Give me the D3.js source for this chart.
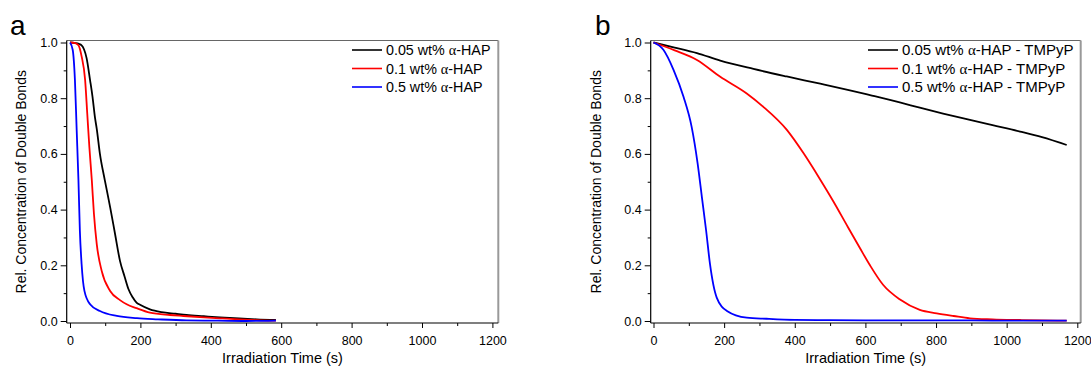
<!DOCTYPE html>
<html>
<head>
<meta charset="utf-8">
<script src="https://cdn.jsdelivr.net/npm/d3@7"></script>
<style>
  body { margin: 0; background: #fff; }
  svg { display: block; font-family: "Liberation Sans", Arial, sans-serif; }
</style>
</head>
<body>
<div id="chart"></div>
<script>

// panel a : alpha-HAP only (time in s, relative concentration)
var timeA_black = [0, 14, 25, 33, 40, 47, 57, 64, 71, 76, 85, 99, 114, 128, 142, 155, 166, 178, 189, 199, 227, 260, 300, 331, 380, 426, 480, 530, 585];
var valA_black  = [1.0, 0.998, 0.995, 0.99, 0.975, 0.945, 0.865, 0.805, 0.73, 0.69, 0.60, 0.505, 0.409, 0.3125, 0.216, 0.16, 0.115, 0.085, 0.066, 0.058, 0.042, 0.032, 0.026, 0.0215, 0.017, 0.013, 0.009, 0.006, 0.004];

var timeA_red = [0, 15, 24, 33, 43, 49, 55, 62, 68, 76, 90, 114, 142, 161, 189, 227, 284, 322, 380, 426, 480, 530, 585];
var valA_red  = [1.0, 0.998, 0.99, 0.95, 0.865, 0.745, 0.625, 0.505, 0.385, 0.276, 0.18, 0.108, 0.075, 0.06, 0.046, 0.03, 0.0215, 0.018, 0.013, 0.0097, 0.006, 0.003, 0.001];

var timeA_blue = [0, 7.6, 14, 19, 24, 28, 33, 41, 57, 85, 133, 190, 250, 331, 420, 500, 585];
var valA_blue  = [1.0, 0.974, 0.865, 0.685, 0.505, 0.325, 0.204, 0.108, 0.06, 0.036, 0.018, 0.01, 0.006, 0.002, 0.001, 0.0, 0.001];

// panel b : alpha-HAP - TMPyP
var timeB_black = [0, 60, 123, 189, 283, 377, 472, 550, 613, 700, 754, 820, 896, 960, 1038, 1100, 1170];
var valB_black  = [1.0, 0.982, 0.962, 0.935, 0.905, 0.878, 0.852, 0.83, 0.811, 0.784, 0.766, 0.745, 0.722, 0.703, 0.68, 0.66, 0.632];

var timeB_red = [0, 60, 123, 189, 264, 311, 377, 425, 471, 509, 547, 584, 613, 650, 698, 754, 802, 850, 896, 960, 1038, 1100, 1170];
var valB_red  = [1.0, 0.972, 0.9375, 0.877, 0.817, 0.769, 0.687, 0.602, 0.51, 0.43, 0.345, 0.263, 0.2, 0.13, 0.077, 0.04, 0.0276, 0.018, 0.0097, 0.006, 0.0036, 0.002, 0.001];

var timeB_blue = [0, 28, 57, 85, 108, 125, 137, 149, 160, 179, 208, 264, 320, 400, 500, 600, 700, 800, 900, 1000, 1100, 1170];
var valB_blue  = [1.0, 0.974, 0.901, 0.805, 0.697, 0.565, 0.445, 0.325, 0.204, 0.084, 0.036, 0.012, 0.008, 0.004, 0.003, 0.002, 0.002, 0.002, 0.002, 0.001, 0.001, 0.001];

var seriesColors = ["#000000", "#ff0000", "#0000ff"];
var legendA = ["0.05 wt% ", "0.1 wt% ", "0.5 wt% "];
var legendSuffixA = "-HAP";
var legendSuffixB = "-HAP - TMPyP";

var xTicksMajor = [0, 200, 400, 600, 800, 1000, 1200];
var xTicksMinor = [100, 300, 500, 700, 900, 1100];
var yTicksMajor = [0, 0.2, 0.4, 0.6, 0.8, 1.0];
var yTicksMinor = [0.1, 0.3, 0.5, 0.7, 0.9];

function zipSeries(t, v) {
    return t.map(function(d, i) { return { t: d, v: v[i] }; });
}

var svg = d3.select("#chart").append("svg")
    .attr("width", 1091)
    .attr("height", 370);

DecayChart = function(_panel) {
    this.panel = _panel;
    this.initVis();
};

DecayChart.prototype.initVis = function() {
    var vis = this;
    var p = vis.panel;

    vis.g = svg.append("g");

    vis.x = d3.scaleLinear().domain([0, 1200]).range([p.x0, p.x1200]);
    vis.y = d3.scaleLinear().domain([0, 1]).range([p.yZero, p.yOne]);

    // x axis (major with labels, minor without)
    vis.g.append("g")
        .attr("class", "x-major")
        .attr("transform", "translate(0," + p.bottom + ")")
        .call(d3.axisBottom(vis.x).tickValues(xTicksMajor).tickSize(5).tickPadding(8).tickFormat(d3.format("d")));
    vis.g.append("g")
        .attr("class", "x-minor")
        .attr("transform", "translate(0," + p.bottom + ")")
        .call(d3.axisBottom(vis.x).tickValues(xTicksMinor).tickSize(3).tickFormat(""));

    vis.g.append("g")
        .attr("class", "y-major")
        .attr("transform", "translate(" + p.left + ",0)")
        .call(d3.axisLeft(vis.y).tickValues(yTicksMajor).tickSize(6).tickPadding(3).tickFormat(d3.format(".1f")));
    vis.g.append("g")
        .attr("class", "y-minor")
        .attr("transform", "translate(" + p.left + ",0)")
        .call(d3.axisLeft(vis.y).tickValues(yTicksMinor).tickSize(3).tickFormat(""));

    vis.g.selectAll(".domain").remove();
    vis.g.selectAll(".tick line").attr("stroke", "#000").attr("stroke-width", 1);
    vis.g.selectAll(".tick text").attr("font-size", "12.5px").attr("fill", "#000");

    // frame: top and right grey, left and bottom black
    vis.g.append("line").attr("x1", p.left).attr("x2", p.right).attr("y1", p.top).attr("y2", p.top)
        .attr("stroke", "#666").attr("stroke-width", 1);
    vis.g.append("line").attr("x1", p.right).attr("x2", p.right).attr("y1", p.top).attr("y2", p.bottom)
        .attr("stroke", "#999").attr("stroke-width", 2);
    vis.g.append("line").attr("x1", p.left).attr("x2", p.right).attr("y1", p.bottom).attr("y2", p.bottom)
        .attr("stroke", "#000").attr("stroke-width", 1.2);
    vis.g.append("line").attr("x1", p.left).attr("x2", p.left).attr("y1", p.top).attr("y2", p.bottom)
        .attr("stroke", "#000").attr("stroke-width", 1.2);

    // titles
    vis.g.append("text")
        .attr("x", (p.left + p.right) / 2)
        .attr("y", 363)
        .attr("text-anchor", "middle")
        .attr("font-size", "14.5px")
        .text("Irradiation Time (s)");

    vis.g.append("text")
        .attr("transform", "translate(" + p.yTitleX + "," + ((p.top + p.bottom) / 2) + ") rotate(-90)")
        .attr("text-anchor", "middle")
        .attr("dy", "0.35em")
        .attr("font-size", "14px")
        .text("Rel. Concentration of Double Bonds");

    vis.g.append("text")
        .attr("x", p.letterX)
        .attr("y", 35)
        .attr("font-size", "28px")
        .text(p.letter);

    vis.updateVis();
};

DecayChart.prototype.updateVis = function() {
    var vis = this;
    var p = vis.panel;

    var line = d3.line()
        .x(function(d) { return vis.x(d.t); })
        .y(function(d) { return vis.y(d.v); })
        .curve(d3.curveMonotoneX);

    vis.g.selectAll(".curve")
        .data(p.series)
        .enter()
        .append("path")
        .attr("class", "curve")
        .attr("d", function(d) { return line(d); })
        .attr("fill", "none")
        .attr("stroke", function(d, i) { return seriesColors[i]; })
        .attr("stroke-width", 1.8);

    // legend
    var rowsY = [50, 68.5, 87];
    var leg = vis.g.selectAll(".legend")
        .data(legendA)
        .enter()
        .append("g")
        .attr("class", "legend")
        .attr("transform", function(d, i) { return "translate(0," + rowsY[i] + ")"; });

    leg.append("line")
        .attr("x1", p.legendX).attr("x2", p.legendX + 30)
        .attr("stroke", function(d, i) { return seriesColors[i]; })
        .attr("stroke-width", 1.6);

    var txt = leg.append("text")
        .attr("x", p.legendX + 34)
        .attr("dy", "0.35em")
        .attr("font-size", p.legendSize);
    txt.append("tspan").text(function(d) { return d; });
    txt.append("tspan").attr("font-family", "'Liberation Serif', 'DejaVu Serif', serif").text("\u03b1");
    txt.append("tspan").text(p.suffix);
};

var panelA = {
    letter: "a", letterX: 10,
    x0: 70, x1200: 492.4, left: 66.7, right: 498.3,
    yOne: 42.5, yZero: 321, top: 40.5, bottom: 323,
    yTitleX: 21, legendX: 352, legendSize: "14.3px", suffix: legendSuffixA,
    series: [zipSeries(timeA_black, valA_black), zipSeries(timeA_red, valA_red), zipSeries(timeA_blue, valA_blue)]
};

var panelB = {
    letter: "b", letterX: 595,
    x0: 653.5, x1200: 1077.3, left: 650.7, right: 1080.7,
    yOne: 42.5, yZero: 321, top: 40.5, bottom: 323,
    yTitleX: 596, legendX: 868, legendSize: "15px", suffix: legendSuffixB,
    series: [zipSeries(timeB_black, valB_black), zipSeries(timeB_red, valB_red), zipSeries(timeB_blue, valB_blue)]
};

var chartA = new DecayChart(panelA);
var chartB = new DecayChart(panelB);
</script>
</body>
</html>
